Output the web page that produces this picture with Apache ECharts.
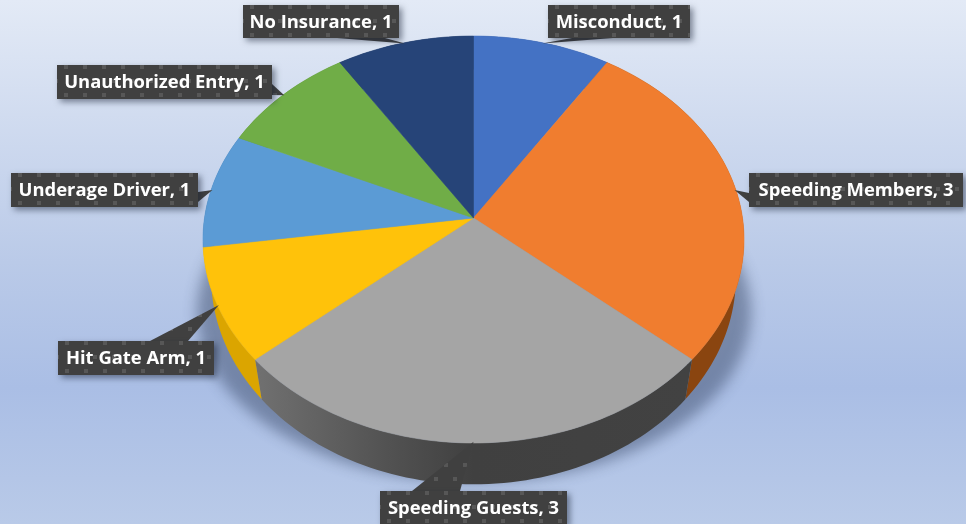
<!DOCTYPE html>
<html>
<head>
<meta charset="utf-8">
<style>html,body{margin:0;padding:0;background:#c8d5ec}#chart{width:966px;height:524px}</style>
<script src="https://cdn.jsdelivr.net/npm/echarts@6/dist/echarts.min.js"></script>
</head>
<body>
<div id="chart"></div>
<script>
// Incident counts by violation type, clockwise from twelve o'clock
const categories = ['Misconduct', 'Speeding Members', 'Speeding Guests', 'Hit Gate Arm', 'Underage Driver', 'Unauthorized Entry', 'No Insurance'];
const counts = [1, 3, 3, 1, 1, 1, 1];
const topColors = ['#4472C4', '#F07D2F', '#A5A5A5', '#FFC20A', '#5B9BD5', '#70AD47', '#264478'];
const sideColors = ['#2A4A80', '#8A4510', '#404040', '#DBA500', '#3A6A96', '#4A7530', '#182C4E'];

// Callout rectangles [left, top, right, bottom], one per category
const labelBoxes = [
  [548, 5, 690, 38], [749, 173, 963, 207], [380, 491, 567, 525], [58, 341, 214, 375],
  [11, 173, 198, 207], [57, 65, 272, 99], [243, 5, 399, 38]
];
// Where each callout's pointer leaves its rectangle [x0, y0, x1, y1]
const pointerBases = [
  [572, 38, 613, 38], [749, 193, 749, 202], [412, 491, 460, 491], [150, 341, 188, 341],
  [198, 192, 198, 202], [272, 84, 272, 95], [337, 38, 385, 38]
];

// Projection of the tilted disc onto the page
const APEX_X = 473.5, APEX_Y = 218, SCALE_X = 269, SCALE_Y = 201.2, TILT = 0.1057;
const THICKNESS = 37, BASE_SHRINK = 0.97;

function project(deg, r) {
  const t = deg * Math.PI / 180;
  const u = r * Math.sin(t), v = -r * Math.cos(t), w = 1 - TILT * v;
  return { x: APEX_X + SCALE_X * u / w, y: APEX_Y + SCALE_Y * v / w, w };
}
function projectBase(deg) {
  const p = project(deg, 1);
  return [APEX_X + (p.x - APEX_X) * BASE_SHRINK, p.y + THICKNESS / p.w];
}
const total = counts.reduce((a, b) => a + b, 0);
function sliceAngles(i) {
  let before = 0;
  for (let k = 0; k < i; k++) before += counts[k];
  return [before / total * 360, (before + counts[i]) / total * 360];
}
function arcSteps(a0, a1) {
  const n = Math.max(2, Math.ceil((a1 - a0) / 1.5));
  const out = [];
  for (let k = 0; k <= n; k++) out.push(a0 + (a1 - a0) * k / n);
  return out;
}
function globalGrad(x0, x1, stops) {
  return {
    type: 'linear', global: true, x: x0, y: 0, x2: x1, y2: 0,
    colorStops: stops.map(s => ({ offset: s[0], color: s[1] }))
  };
}

// Small staggered dots that texture the callout plates
const dots = document.createElement('canvas');
dots.width = 19; dots.height = 28;
(function () {
  const g = dots.getContext('2d');
  g.fillStyle = '#404040';
  g.fillRect(0, 0, 19, 28);
  g.fillStyle = '#575757';
  g.fillRect(7, 0, 4, 4);
  g.fillRect(16, 14, 3, 4);
  g.fillRect(0, 14, 1, 4);
})();

function sideFill(i) {
  if (categories[i] === 'Speeding Guests') {
    return globalGrad(258, 690, [[0, '#707070'], [0.3, '#525252'], [0.5, '#404040'], [1, '#424242']]);
  }
  if (categories[i] === 'Speeding Members') {
    return globalGrad(672, 745, [[0, '#5a3c22'], [0.25, '#8A4510'], [1, '#8A4510']]);
  }
  return sideColors[i];
}

const rows = categories.map((c, i) => [i, counts[i]]);

const option = {
  animation: false,
  backgroundColor: {
    type: 'linear', x: 0, y: 0, x2: 0, y2: 1,
    colorStops: [
      { offset: 0, color: '#E3EAF6' },
      { offset: 0.5, color: '#BACAE8' },
      { offset: 0.74, color: '#AABEE5' },
      { offset: 1, color: '#B9CAE8' }
    ]
  },
  series: [
    {
      // Soft shadow cast below the disc
      type: 'custom', coordinateSystem: 'none', name: 'shadow', z: 1, silent: true,
      data: [[0]],
      renderItem() {
        const pts = [];
        for (let a = 0; a < 360; a += 3) {
          const t = a * Math.PI / 180;
          pts.push([474 - 3000 + 277 * Math.sin(t), 312 - 170 * Math.cos(t)]);
        }
        return {
          type: 'polygon', shape: { points: pts },
          style: { fill: '#000', shadowColor: 'rgba(50,65,95,0.46)', shadowBlur: 14, shadowOffsetX: 3000, shadowOffsetY: 0 }
        };
      }
    },
    {
      // Rim of the disc
      type: 'custom', coordinateSystem: 'none', name: 'rim', z: 2, silent: true,
      data: rows,
      renderItem(params, api) {
        const i = api.value(0);
        const [a0, a1] = sliceAngles(i);
        const steps = arcSteps(a0, a1);
        const pts = steps.map(a => { const p = project(a, 1); return [p.x, p.y]; });
        steps.slice().reverse().forEach(a => pts.push(projectBase(a)));
        return { type: 'polygon', shape: { points: pts }, style: { fill: sideFill(i) } };
      }
    },
    {
      // Upper face of each slice
      type: 'custom', coordinateSystem: 'none', name: 'faces', z: 3, silent: true,
      data: rows,
      renderItem(params, api) {
        const i = api.value(0);
        const [a0, a1] = sliceAngles(i);
        const pts = [[APEX_X, APEX_Y]];
        arcSteps(a0, a1).forEach(a => { const p = project(a, 1); pts.push([p.x, p.y]); });
        return {
          type: 'polygon', shape: { points: pts },
          style: { fill: topColors[i], stroke: topColors[i], lineWidth: 0.6 }
        };
      }
    },
    {
      // Callout plates with their pointers and text
      type: 'custom', coordinateSystem: 'none', name: 'callouts', z: 4, silent: true,
      data: rows,
      renderItem(params, api) {
        const i = api.value(0);
        const [a0, a1] = sliceAngles(i);
        const tip = project((a0 + a1) / 2, 0.995);
        const [l, t, r, b] = labelBoxes[i];
        const [bx0, by0, bx1, by1] = pointerBases[i];
        const fill = { image: dots, repeat: 'repeat' };
        return {
          type: 'group',
          children: [
            {
              type: 'polygon', x: l, y: t,
              shape: { points: [[bx0 - l, by0 - t], [tip.x - l, tip.y - t], [bx1 - l, by1 - t]] },
              style: { fill: fill }
            },
            {
              type: 'rect', x: l, y: t,
              shape: { x: 0, y: 0, width: r - l, height: b - t },
              style: { fill: fill, shadowColor: 'rgba(20,30,50,0.5)', shadowBlur: 6, shadowOffsetX: 3, shadowOffsetY: 3 }
            },
            {
              type: 'text', x: (l + r) / 2, y: (t + b) / 2 + 1,
              style: {
                text: categories[i] + ', ' + api.value(1),
                fill: '#FFFFFF', font: 'bold 18.4px "Open Sans", sans-serif',
                align: 'center', verticalAlign: 'middle'
              }
            }
          ]
        };
      }
    }
  ]
};

const chart = echarts.init(document.getElementById('chart'), null, { renderer: 'canvas' });
chart.setOption(option);
</script>
</body>
</html>
